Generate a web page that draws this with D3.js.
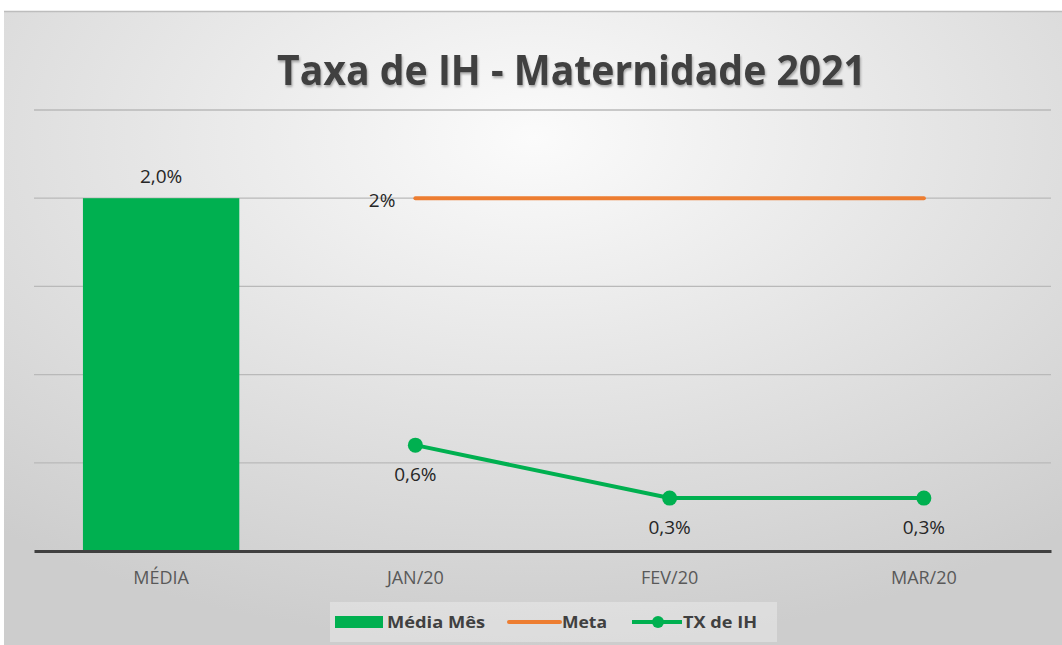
<!DOCTYPE html>
<html>
<head>
<meta charset="utf-8">
<script src="https://cdn.jsdelivr.net/npm/d3@7"></script>
<style>
  html, body { margin: 0; padding: 0; background: #fff; }
  svg { display: block; font-family: "Open Sans", sans-serif; }
</style>
</head>
<body>
<svg id="chart" width="1062" height="645"></svg>
<script>
// categories and series (percent values)
const categories = ["MÉDIA", "JAN/20", "FEV/20", "MAR/20"];
const mediaMes   = [2.0, null, null, null];
const meta       = [null, 2, 2, 2];
const txIH       = [null, 0.6, 0.3, 0.3];
const yTicks     = [0, 0.5, 1, 1.5, 2, 2.5];

const W = 1062, H = 645;
const m = { top: 110, right: 11, bottom: 94, left: 34 };

const svg = d3.select("#chart");
const defs = svg.append("defs");

const bg = defs.append("radialGradient").attr("id", "bgGrad")
    .attr("cx", "50%").attr("cy", "20%").attr("r", "80%");
bg.append("stop").attr("offset", "0%").attr("stop-color", "#fbfbfb");
bg.append("stop").attr("offset", "100%").attr("stop-color", "#cdcdcd");

const shadow = defs.append("filter").attr("id", "txtShadow")
    .attr("x", "-5%").attr("y", "-20%").attr("width", "110%").attr("height", "140%");
shadow.append("feDropShadow").attr("dx", 1).attr("dy", 2).attr("stdDeviation", 1.2)
    .attr("flood-color", "#000").attr("flood-opacity", 0.3);

// chart frame
svg.append("rect").attr("x", 4).attr("y", 11).attr("width", W - 4).attr("height", H - 11)
    .attr("fill", "url(#bgGrad)");
svg.append("line").attr("x1", 4).attr("x2", W).attr("y1", 11.5).attr("y2", 11.5)
    .attr("stroke", "#bdbdbd").attr("stroke-width", 1.5);

const x = d3.scaleBand().domain(categories).range([m.left, W - m.right]).padding(0);
const y = d3.scaleLinear().domain([0, 2.5]).range([H - m.bottom, m.top]);
const cx = c => x(c) + x.bandwidth() / 2;
const pct = v => d3.format(".1f")(v).replace(".", ",") + "%";

// gridlines
svg.append("g")
  .selectAll("line").data(yTicks.slice(1)).join("line")
    .attr("x1", m.left).attr("x2", W - m.right)
    .attr("y1", d => y(d)).attr("y2", d => y(d))
    .attr("stroke", "#b9b9b9").attr("stroke-width", 1.3);

// bars: Média Mês
const barW = x.bandwidth() * 0.615;
const bars = categories.map((c, i) => ({ c, v: mediaMes[i] })).filter(d => d.v != null);
svg.append("g").selectAll("rect").data(bars).join("rect")
    .attr("x", d => cx(d.c) - barW / 2).attr("width", barW)
    .attr("y", d => y(d.v)).attr("height", d => y(0) - y(d.v))
    .attr("fill", "#00b050");
svg.append("g").selectAll("text").data(bars).join("text")
    .attr("x", d => cx(d.c)).attr("y", d => y(d.v) - 15)
    .attr("text-anchor", "middle").attr("font-size", 19).attr("fill", "#262626")
    .text(d => pct(d.v));

// baseline / x axis
const xAxis = svg.append("g").attr("transform", `translate(0,${y(0)})`)
    .call(d3.axisBottom(x).tickSize(0).tickPadding(20));
xAxis.select(".domain").attr("stroke", "#404040").attr("stroke-width", 3);
xAxis.selectAll("text").attr("fill", "#595959").attr("font-size", 18)
    .attr("font-family", "'Open Sans', sans-serif");

// Meta line
const metaPts = categories.map((c, i) => ({ c, v: meta[i] })).filter(d => d.v != null);
const line = d3.line().x(d => cx(d.c)).y(d => y(d.v));
svg.append("path").datum(metaPts).attr("d", line)
    .attr("fill", "none").attr("stroke", "#ed7d31").attr("stroke-width", 4)
    .attr("stroke-linecap", "round");
svg.append("text").attr("x", cx(metaPts[0].c) - 20).attr("y", y(metaPts[0].v) + 9)
    .attr("text-anchor", "end").attr("font-size", 19).attr("fill", "#262626")
    .text(metaPts[0].v + "%");

// TX de IH line
const txPts = categories.map((c, i) => ({ c, v: txIH[i] })).filter(d => d.v != null);
svg.append("path").datum(txPts).attr("d", line)
    .attr("fill", "none").attr("stroke", "#00b050").attr("stroke-width", 4);
svg.append("g").selectAll("circle").data(txPts).join("circle")
    .attr("cx", d => cx(d.c)).attr("cy", d => y(d.v)).attr("r", 7.5)
    .attr("fill", "#00b050");
svg.append("g").selectAll("text").data(txPts).join("text")
    .attr("x", d => cx(d.c)).attr("y", d => y(d.v) + 36)
    .attr("text-anchor", "middle").attr("font-size", 19).attr("fill", "#262626")
    .text(d => pct(d.v));

// title
svg.append("text").attr("x", 277).attr("y", 85)
    .attr("font-size", 41).attr("font-weight", "bold")
    .attr("textLength", 589).attr("lengthAdjust", "spacingAndGlyphs")
    .attr("fill", "#404040").attr("filter", "url(#txtShadow)")
    .text("Taxa de IH - Maternidade 2021");

// legend
const leg = svg.append("g");
leg.append("rect").attr("x", 330).attr("y", 602).attr("width", 447).attr("height", 40)
    .attr("fill", "#ffffff").attr("fill-opacity", 0.3);
const ly = 622;
const legText = (xPos, label, len) => leg.append("text")
    .attr("x", xPos).attr("y", ly + 6).attr("font-size", 16).attr("font-weight", "bold")
    .attr("textLength", len).attr("lengthAdjust", "spacingAndGlyphs")
    .attr("fill", "#404040").text(label);
leg.append("rect").attr("x", 335).attr("y", ly - 6).attr("width", 48).attr("height", 12)
    .attr("fill", "#00b050");
legText(387, "Média Mês", 98);
leg.append("line").attr("x1", 509).attr("x2", 560).attr("y1", ly).attr("y2", ly)
    .attr("stroke", "#ed7d31").attr("stroke-width", 4).attr("stroke-linecap", "round");
legText(562, "Meta", 45);
leg.append("line").attr("x1", 632).attr("x2", 682).attr("y1", ly).attr("y2", ly)
    .attr("stroke", "#00b050").attr("stroke-width", 4);
leg.append("circle").attr("cx", 658).attr("cy", ly).attr("r", 6).attr("fill", "#00b050");
legText(683, "TX de IH", 74);
</script>
</body>
</html>
